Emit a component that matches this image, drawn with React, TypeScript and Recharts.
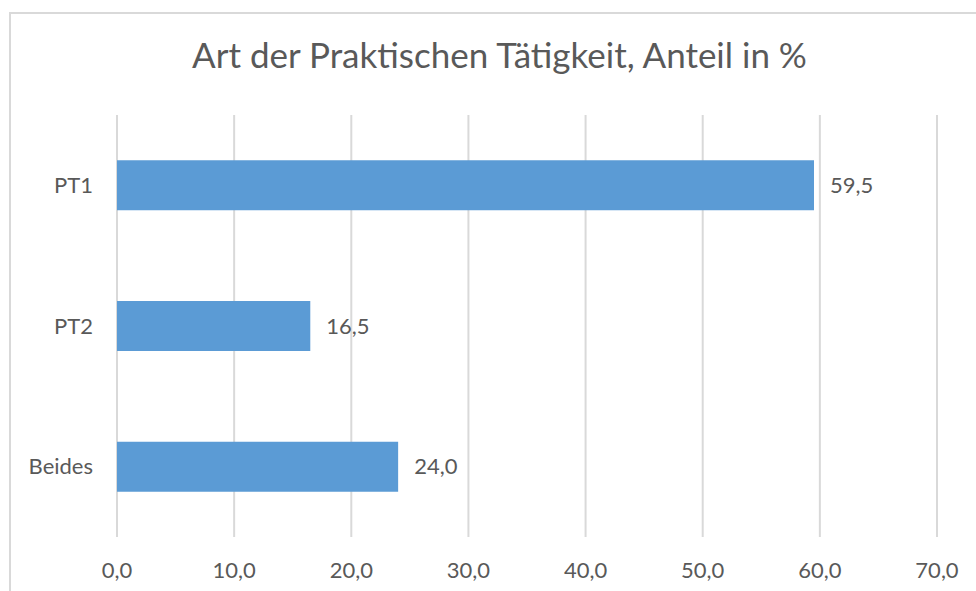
import { BarChart, Bar, XAxis, YAxis, CartesianGrid, LabelList } from 'recharts';

// Werte aus dem Diagramm
const categories = ['PT1', 'PT2', 'Beides'];
const shares = [59.5, 16.5, 24.0];
const xTicks = [0, 10, 20, 30, 40, 50, 60, 70];

const data = categories.map((name, i) => ({ name, value: shares[i] }));

const fmt = (v: number) => v.toFixed(1).replace('.', ',');
const FONT = 'Lato, "Open Sans", sans-serif';
const TEXT = '#595959';

export default function App() {
  return (
    <div
      style={{
        position: 'fixed',
        left: 0,
        top: 0,
        width: 976,
        height: 591,
        overflow: 'hidden',
        background: '#fff',
        fontFamily: FONT,
      }}
    >
      <div
        style={{
          position: 'absolute',
          left: 9,
          top: 12,
          width: 1100,
          height: 1100,
          borderLeft: '2px solid #d9d9d9',
          borderTop: '2px solid #d9d9d9',
        }}
      />
      <div
        style={{
          position: 'absolute',
          left: 0,
          top: 37,
          width: 999,
          textAlign: 'center',
          fontSize: 35,
          lineHeight: 1,
          color: TEXT,
        }}
      >
        Art der Praktischen Tätigkeit, Anteil in %
      </div>
      <div style={{ position: 'absolute', left: 0, top: 0 }}>
        <BarChart
          width={976}
          height={591}
          data={data}
          layout="vertical"
          margin={{ top: 115, right: 39, left: 0, bottom: 24 }}
          barCategoryGap="32.2%"
        >
          <CartesianGrid horizontal={false} stroke="#d9d9d9" strokeWidth={2} />
          <XAxis
            type="number"
            domain={[0, 70]}
            ticks={xTicks}
            tickFormatter={fmt}
            axisLine={false}
            tickLine={false}
            tickSize={0}
            tickMargin={25}
            height={30}
            tick={{ fill: TEXT, fontSize: 22, fontFamily: FONT }}
          />
          <YAxis
            type="category"
            dataKey="name"
            width={117}
            axisLine={false}
            tickLine={false}
            tickSize={0}
            tickMargin={24}
            tick={{ fill: TEXT, fontSize: 22, fontFamily: FONT }}
          />
          <Bar dataKey="value" fill="#5b9bd5" isAnimationActive={false}>
            <LabelList
              dataKey="value"
              position="right"
              offset={16}
              formatter={(v: any) => fmt(Number(v))}
              fill={TEXT}
              fontSize={22}
              fontFamily={FONT}
            />
          </Bar>
        </BarChart>
      </div>
    </div>
  );
}
